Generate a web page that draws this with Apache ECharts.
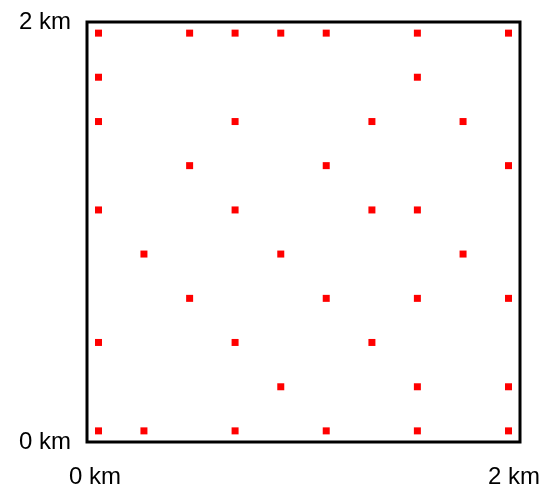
<!DOCTYPE html>
<html>
<head>
<meta charset="utf-8">
<script src="https://cdn.jsdelivr.net/npm/echarts@6/dist/echarts.min.js"></script>
<style>
  html, body { margin: 0; padding: 0; background: #fff; }
  #main { width: 550px; height: 494px; }
</style>
</head>
<body>
<div id="main"></div>
<script>
// site positions in km
var sitesX = [
  0.053, 0.474, 0.684, 0.895, 1.105, 1.526, 1.947,
  0.053, 1.526,
  0.053, 0.684, 1.316, 1.737,
  0.474, 1.105, 1.947,
  0.053, 0.684, 1.316, 1.526,
  0.263, 0.895, 1.737,
  0.474, 1.105, 1.526, 1.947,
  0.053, 0.684, 1.316,
  0.895, 1.526, 1.947,
  0.053, 0.263, 0.684, 1.105, 1.526, 1.947
];
var sitesY = [
  1.947, 1.947, 1.947, 1.947, 1.947, 1.947, 1.947,
  1.737, 1.737,
  1.526, 1.526, 1.526, 1.526,
  1.316, 1.316, 1.316,
  1.105, 1.105, 1.105, 1.105,
  0.895, 0.895, 0.895,
  0.684, 0.684, 0.684, 0.684,
  0.474, 0.474, 0.474,
  0.263, 0.263, 0.263,
  0.053, 0.053, 0.053, 0.053, 0.053, 0.053
];
var axisTicks = [0, 2]; // km

var points = [];
for (var i = 0; i < sitesX.length; i++) {
  points.push([sitesX[i], sitesY[i]]);
}

var myChart = echarts.init(document.getElementById('main'));
var labelFont = {
  color: '#000',
  fontFamily: 'Liberation Sans, Arial, sans-serif',
  fontSize: 24
};

var option = {
  animation: false,
  grid: {
    left: 87, right: 30, top: 22, bottom: 52,
    show: true,
    borderColor: '#000',
    borderWidth: 3
  },
  xAxis: {
    type: 'value',
    min: axisTicks[0], max: axisTicks[1], interval: 2,
    axisLine: { show: false },
    axisTick: { show: false },
    splitLine: { show: false },
    axisLabel: Object.assign({}, labelFont, {
      margin: 23,
      formatter: function (v) {
        return v === axisTicks[0] ? '{a|' + v + ' km}' : '{b|' + v + ' km}';
      },
      rich: {
        a: Object.assign({}, labelFont, { padding: [0, 0, 0, 16] }),
        b: Object.assign({}, labelFont, { padding: [0, 12, 0, 0] })
      }
    })
  },
  yAxis: {
    type: 'value',
    min: axisTicks[0], max: axisTicks[1], interval: 2,
    axisLine: { show: false },
    axisTick: { show: false },
    splitLine: { show: false },
    axisLabel: Object.assign({}, labelFont, {
      margin: 16,
      formatter: '{value} km'
    })
  },
  series: [{
    type: 'scatter',
    symbol: 'rect',
    symbolSize: 7,
    itemStyle: { color: '#ff0000', opacity: 1 },
    data: points
  }]
};
myChart.setOption(option);
</script>
</body>
</html>
